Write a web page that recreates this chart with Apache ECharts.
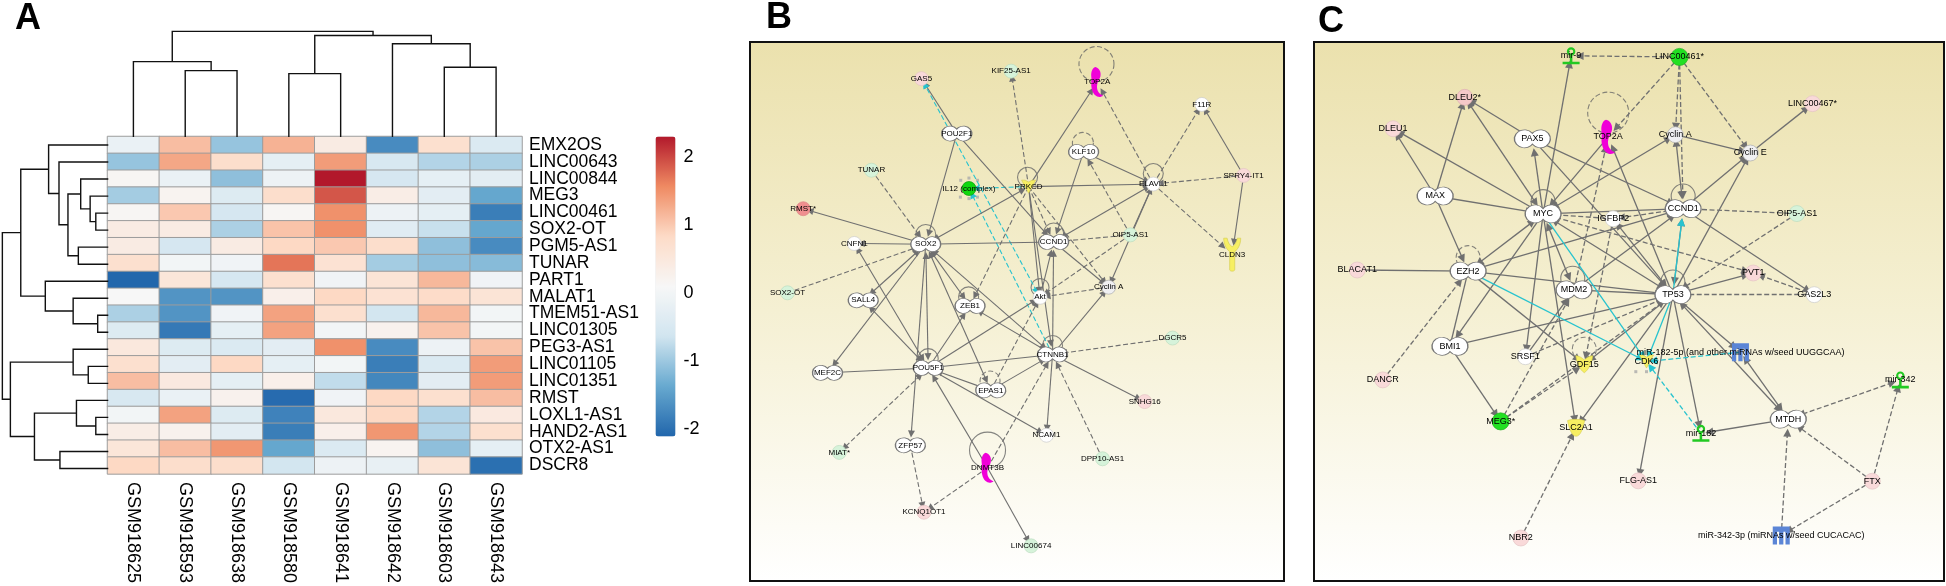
<!DOCTYPE html>
<html><head><meta charset="utf-8">
<script src="https://cdn.jsdelivr.net/npm/echarts@6/dist/echarts.min.js"></script>
<style>html,body{margin:0;padding:0;background:#fff}#c{width:1946px;height:586px;filter:blur(0.3px)}</style>
</head><body><div id="c"></div>
<script>
const samples=['GSM918625','GSM918593','GSM918638','GSM918580','GSM918641','GSM918642','GSM918603','GSM918643'];
const genes=['EMX2OS','LINC00643','LINC00844','MEG3','LINC00461','SOX2-OT','PGM5-AS1','TUNAR','PART1','MALAT1','TMEM51-AS1','LINC01305','PEG3-AS1','LINC01105','LINC01351','RMST','LOXL1-AS1','HAND2-AS1','OTX2-AS1','DSCR8'];
const expression=[
[-0.15,1.1,-1.05,1.2,0.4,-1.7,0.7,-0.45],
[-1.05,1.3,0.75,-0.25,1.4,-0.5,-0.85,-0.9],
[0.15,-0.15,-1.1,-0.1,2.3,-0.55,-0.25,-0.3],
[-0.95,0.2,-0.4,0.75,1.9,0.35,-0.3,-1.4],
[0.15,1.0,-0.55,0.15,1.5,-0.1,-0.25,-1.85],
[0.4,0.4,-0.9,1.05,1.5,-0.35,-0.7,-1.4],
[0.4,-0.55,0.4,0.85,1.0,0.75,-1.1,-1.7],
[0.7,0.0,-0.05,1.7,0.65,-0.95,-1.1,-1.15],
[-2.1,0.55,-0.55,0.7,-0.05,0.6,1.15,-0.05],
[0.1,-1.6,-1.6,0.3,0.85,0.65,0.8,0.6],
[-0.9,-1.6,-0.05,1.35,0.7,-0.6,1.15,0.0],
[-0.4,-1.9,-0.25,1.35,0.0,0.25,1.05,0.0],
[0.5,-0.4,-0.45,-0.3,1.5,-1.7,-0.1,1.05],
[0.7,-0.3,0.85,-0.25,0.0,-1.85,-0.45,1.4],
[1.1,0.45,-0.25,0.3,-0.75,-1.75,-0.3,1.4],
[-0.5,-0.15,0.25,-2.05,-0.05,0.85,0.7,1.1],
[0.0,1.35,-0.4,-1.8,0.5,0.85,-0.85,0.45],
[0.35,0.25,-0.3,-1.85,0.3,1.45,-0.85,0.7],
[0.55,1.1,1.45,-1.4,-0.45,0.2,-1.1,-0.25],
[0.85,0.75,0.75,-0.6,-0.1,-0.2,0.6,-2.0]];
const colorTicks=[-2,-1,0,1,2];
const colorRange=[-2.11,2.30];
// dendrogram merges: [child, child, height]; ids >= leaf count refer to earlier merges
const colMerges=[[1,2,176],[0,8,200],[3,4,168],[6,7,185],[5,11,248],[10,12,270],[9,13,281]];
const rowMerges=[[4,5,25],[3,20,37],[2,21,57],[6,7,62],[22,23,84],[1,24,103],[0,25,125],[10,11,21],[9,27,73],[8,28,132],[26,29,184],[13,14,41],[12,31,73],[16,17,25],[15,33,66],[18,19,101],[34,35,155],[32,36,206],[30,37,223]];

// network nodes: [name, x, y, kind]
const nodesB=[
['GAS5',508,211,'pink'],['KIF25-AS1',759,191,'green'],['TOP2A',1000,220,'enzyme'],['F11R',1293,280,'white'],
['POU2F1',607,358,'tf'],['KLF10',962,407,'tf'],['TUNAR',368,456,'green'],['SPRY4-IT1',1410,470,'pink'],
['IL12 (complex)',641,505,'hit'],['PRKCD',808,500,'kinase'],['ELAVL1',1157,493,'white'],['RMST*',177,559,'red'],
['OIP5-AS1',1093,629,'green'],['SOX2',520,654,'tf'],['CCND1',878,648,'tf'],['CNFN1',320,652,'white'],
['CLDN3',1378,682,'receptor'],['SOX2-OT',133,784,'green'],['SALL4',345,804,'tf'],['Cyclin A',1032,769,'grey'],
['Akt',840,796,'white'],['ZEB1',644,819,'tf'],['DGCR5',1211,905,'green'],['CTNNB1',875,949,'tf'],
['POU5F1',527,985,'tf'],['MEF2C',245,998,'tf'],['EPAS1',702,1045,'tf'],['SNHG16',1133,1075,'pink'],
['NCAM1',858,1165,'white'],['ZFP57',477,1192,'tf'],['MIAT*',278,1211,'green'],['DPP10-AS1',1015,1228,'green'],
['DNMT3B',693,1252,'enzyme'],['KCNQ1OT1',515,1371,'pink'],['LINC00674',815,1461,'green']];
// network edges: [from, to, kind]; s solid, d dashed, c cyan, b both ends arrowed
const edgesB=[
['POU2F1','GAS5','s'],['Akt','GAS5','cdb'],['CTNNB1','IL12 (complex)','cd'],['PRKCD','IL12 (complex)','cd'],
['POU2F1','SOX2','s'],['POU2F1','CCND1','s'],['TUNAR','SOX2','d'],['SOX2','RMST*','s'],['SOX2','CNFN1','s'],
['SOX2-OT','SOX2','d'],['SOX2','SALL4','sb'],['SOX2','MEF2C','s'],['SOX2','POU5F1','sb'],['SOX2','ZFP57','s'],
['SOX2','ZEB1','sb'],['SOX2','EPAS1','sb'],['SOX2','CTNNB1','sb'],['SOX2','PRKCD','sb'],['CCND1','SOX2','s'],
['CNFN1','POU5F1','sb'],['SALL4','POU5F1','sb'],['POU5F1','MEF2C','s'],['POU5F1','ZEB1','s'],['POU5F1','CTNNB1','sb'],
['POU5F1','Akt','s'],['EPAS1','POU5F1','s'],['POU5F1','NCAM1','s'],['POU5F1','MIAT*','db'],['DNMT3B','POU5F1','s'],
['ZFP57','KCNQ1OT1','d'],['DNMT3B','KCNQ1OT1','d'],['DNMT3B','LINC00674','s'],['DNMT3B','CTNNB1','d'],
['DPP10-AS1','CTNNB1','d'],['DGCR5','CTNNB1','d'],['CTNNB1','SNHG16','s'],['CTNNB1','NCAM1','s'],['CTNNB1','ZEB1','s'],
['EPAS1','CTNNB1','s'],['EPAS1','Akt','d'],['CTNNB1','Cyclin A','s'],['CTNNB1','CCND1','s'],['Akt','CCND1','s'],
['PRKCD','CTNNB1','s'],['PRKCD','Akt','s'],['PRKCD','ZEB1','d'],['PRKCD','CCND1','d'],['PRKCD','Cyclin A','d'],
['PRKCD','TOP2A','s'],['PRKCD','ELAVL1','s'],['PRKCD','KIF25-AS1','d'],['KLF10','ELAVL1','s'],['KLF10','CCND1','s'],
['OIP5-AS1','KLF10','d'],['OIP5-AS1','CCND1','d'],['OIP5-AS1','ELAVL1','s'],['OIP5-AS1','Akt','d'],['ELAVL1','CCND1','sb'],
['ELAVL1','Cyclin A','s'],['ELAVL1','TOP2A','d'],['ELAVL1','F11R','d'],['ELAVL1','CLDN3','d'],['SPRY4-IT1','ELAVL1','d'],
['SPRY4-IT1','F11R','s'],['SPRY4-IT1','CLDN3','s'],['CCND1','Cyclin A','s'],['Cyclin A','Akt','d']];
// self-loop rings: [x, y, diameter, dashed]
const loopsB=[[998,172,35,1],[960,383,21,1],[805,475,20,0],[1157,465,20,0],[520,628,20,0],[878,624,20,0],[840,770,18,0],[640,795,20,0],[875,925,20,0],[527,960,20,0],[700,1020,20,1],[693,1205,36,0]];
const groupDotsB=[[618,483],[641,477],[665,483],[617,528],[641,532],[665,528]];

const nodesC=[
['mir-9',658,150,'mirna'],['LINC00461*',921,153,'hitLabel'],['DLEU2*',400,261,'pink2'],['LINC00467*',1244,278,'pink'],
['DLEU1',226,345,'pink'],['PAX5',564,372,'tf'],['TOP2A',748,367,'enzyme'],['Cyclin A',911,361,'grey'],['Cyclin E',1093,410,'grey'],
['MAX',328,525,'tf'],['MYC',590,573,'tf'],['CCND1',930,559,'tf'],['IGFBP2',760,586,'white'],['OIP5-AS1',1206,572,'green'],
['EZH2',408,726,'tf'],['BLACAT1',139,723,'pink'],['PVT1',1100,731,'pink'],['MDM2',665,776,'tf'],['TP53',905,789,'tf'],
['GAS2L3',1248,789,'white'],['BMI1',364,927,'tf'],['SRSF1',547,955,'white'],['GDF15',690,975,'cytokine'],
['miR-182-5p (and other miRNAs w/seed UUGGCAA)',1069,943,'mirgroup'],['CDK6',841,968,'kinase'],['DANCR',201,1017,'pink'],
['mir-342',1457,1017,'mirna'],['MEG3*',487,1128,'hitLabel'],['MTDH',1185,1122,'tf'],['SLC2A1',670,1145,'transporter'],
['mir-182',973,1160,'mirna'],['FLG-AS1',821,1287,'pink'],['FTX',1389,1288,'pink'],['NBR2',536,1440,'pink'],
['miR-342-3p (miRNAs w/seed CUCACAC)',1168,1433,'mirgroup']];
const m1825='miR-182-5p (and other miRNAs w/seed UUGGCAA)', m3423='miR-342-3p (miRNAs w/seed CUCACAC)';
const edgesC=[
['LINC00461*','mir-9','d'],['LINC00461*','TOP2A','d'],['LINC00461*','Cyclin A','d'],['LINC00461*','CCND1','d'],['LINC00461*','Cyclin E','d'],
['MYC','mir-9','s'],['PAX5','DLEU2*','s'],['MAX','DLEU2*','s'],['MYC','DLEU2*','sb'],['MAX','DLEU1','s'],['MYC','DLEU1','s'],
['MAX','MYC','s'],['MAX','EZH2','s'],['MYC','PAX5','s'],['PAX5','CCND1','s'],['PAX5','TP53','s'],['TOP2A','MYC','s'],['MYC','Cyclin A','sb'],
['CCND1','Cyclin A','sb'],['Cyclin A','Cyclin E','s'],['Cyclin E','LINC00467*','s'],['CCND1','Cyclin E','s'],['TP53','Cyclin E','s'],['TP53','TOP2A','s'],
['CCND1','MYC','s'],['IGFBP2','MYC','d'],['CCND1','IGFBP2','d'],['MYC','TP53','sb'],['OIP5-AS1','CCND1','d'],['OIP5-AS1','TP53','d'],
['CCND1','GAS2L3','s'],['GAS2L3','PVT1','d'],['GAS2L3','TP53','d'],['TP53','PVT1','s'],['MYC','PVT1','db'],['IGFBP2','TP53','sb'],
['IGFBP2','GDF15','d'],['MDM2','TOP2A','d'],['CCND1','TP53','sb'],['MDM2','CCND1','s'],['MYC','MDM2','sb'],['EZH2','MYC','sb'],['EZH2','CCND1','sb'],
['TP53','EZH2','s'],['MDM2','TP53','s'],['EZH2','BLACAT1','sn'],['DANCR','EZH2','d'],['EZH2','BMI1','sn'],['EZH2','GDF15','s'],['BMI1','TP53','s'],
['BMI1','MEG3*','s'],['MYC','BMI1','s'],['MYC','SRSF1','s'],['MYC','SLC2A1','s'],['SRSF1','MDM2','s'],['SRSF1','TP53','d'],['MEG3*','MDM2','d'],
['MEG3*','GDF15','d'],['MEG3*','TP53','d'],['TP53','GDF15','s'],['TP53','SLC2A1','s'],['TP53','FLG-AS1','s'],['TP53','mir-182','s'],[ 'TP53',m1825,'s'],
['TP53','MTDH','sb'],[m1825,'MTDH','sb'],['MTDH','mir-182','s'],['mir-342','MTDH','db'],['FTX','mir-342','d'],['FTX','MTDH','d'],['FTX',m3423,'d'],
[m3423,'MTDH','d'],['NBR2','SLC2A1','d'],
['MYC','CDK6','cs'],['EZH2','CDK6','cs'],['TP53','CDK6','cs'],['TP53','CCND1','cs'],[m1825,'CDK6','cd'],['mir-182','CDK6','cd']];
const loopsC=[[748,302,41,1],[590,540,24,0],[930,525,24,0],[408,690,24,1],[662,745,24,0],[905,755,24,0],[690,935,24,1]];
const groupDotsC=[[815,995],[841,995]];

const font='"Liberation Sans", Arial, sans-serif';
const PEANUT='path://M18 4A10 10 0 1 0 18 16A10 10 0 1 0 18 4Z';
const ENZYME='path://M8 0C15 1 19 8 17 15C15 20 11 24 11 30C11 38 16 42 22 44C16 49 5 46 2 34C0 26 2 22 1 15C0 8 3 1 8 0Z';
const RECEPTOR='path://M0 0L4 0C5 6 7 10 10 12C13 10 15 6 16 0L20 0C20 10 16 16 13 19L13 44C13 47 7 47 7 44L7 19C4 16 0 10 0 0Z';
const MIRNA='path://M10 0A5 5 0 1 1 10 10A5 5 0 1 1 10 0ZM10 2.5A2.5 2.5 0 1 0 10 7.5A2.5 2.5 0 1 0 10 2.5ZM8.5 10H11.5V17H20V20H0V17H8.5Z';
const COMB='path://M0 0H20V20H15V6H12.5V20H7.5V6H5V20H0Z';
const BUTTERFLY='path://M0 0C4 0 8 3 10 5C12 3 16 0 20 0C19 8 15 17 10 20C5 17 1 8 0 0Z';
const KINASE='path://M0 0L5 0L10 3L15 0L20 0L14 12L10 20L6 12Z';
const CUP='path://M0 2C5 0 15 0 20 2C18 12 15 20 10 20C5 20 2 12 0 2Z';
function kindStyle(k,big){
  const s=big?1.14:1, n=(w,h)=>[w*s,h*s];
  const circle=(c,d,b)=>({symbol:'circle',symbolSize:n(d,d),itemStyle:{color:c,borderColor:b||'#c9c9c9',borderWidth:0.7}});
  switch(k){
    case 'tf':return {symbol:PEANUT,symbolSize:big?[36,18]:[30,15],itemStyle:{color:'#fff',borderColor:'#777',borderWidth:1}};
    case 'white':return circle('#fff',14,'#ccc');
    case 'grey':return circle('#f0f0f2',14,'#aaa');
    case 'pink':return circle('#f9d9d9',14,'#e4c4c4');
    case 'pink2':return circle('#f6c9c9',14,'#dcb0b0');
    case 'red':return circle('#ef8f8f',14,'#d88');
    case 'green':return circle('#d6f3da',14,'#bcdcc0');
    case 'hit':return circle('#0fd80f',14,'#0a9a0a');
    case 'hitLabel':return circle('#22e022',15,'#22b022');
    case 'enzyme':return {symbol:ENZYME,symbolSize:n(12,30),itemStyle:{color:'#f000d8'}};
    case 'receptor':return {symbol:RECEPTOR,symbolSize:[17,33],itemStyle:{color:'#f7ef62',borderColor:'#d3cb50',borderWidth:0.6}};
    case 'kinase':return {symbol:KINASE,symbolSize:[14,13],itemStyle:{color:'#f7ef62',borderColor:'#d3cb50',borderWidth:0.6}};
    case 'cytokine':return {symbol:BUTTERFLY,symbolSize:[17,17],itemStyle:{color:'#f7ef62',borderColor:'#d3cb50',borderWidth:0.6}};
    case 'transporter':return {symbol:CUP,symbolSize:[17,17],itemStyle:{color:'#f7ef62',borderColor:'#d3cb50',borderWidth:0.6}};
    case 'mirna':return {symbol:MIRNA,symbolSize:[17,17],itemStyle:{color:'#22c922'}};
    case 'mirgroup':return {symbol:COMB,symbolSize:[17,18],itemStyle:{color:'#5b85d6'}};
  }
}
function linkOf(e,width){
  const k=e[2],cy=k[0]==='c',dash=k.includes('d'),both=k.endsWith('b'),none=k.endsWith('n');
  return {source:e[0],target:e[1],symbol:[both?'triangle':'none',none?'none':'triangle'],
    lineStyle:{color:cy?'#27c3cf':'#707070',width:width,type:dash?[5,2.5]:'solid',curveness:0,opacity:1}};
}
function treeSegments(merges,n,leafPos){
  const pos=[],h=[];
  for(let i=0;i<n;i++){pos[i]=leafPos(i);h[i]=0;}
  const pts=[];
  merges.forEach((m,j)=>{
    const id=n+j,[a,b,t]=m;
    pts.push([pos[a],h[a]],[pos[a],t],[pos[b],t],[pos[b],h[b]],['-','-']);
    pos[id]=(pos[a]+pos[b])/2;h[id]=t;
  });
  return pts;
}
const heat=[];
expression.forEach((r,i)=>r.forEach((v,j)=>heat.push([j,i,v])));
const hidden=(o)=>Object.assign({type:'value',show:false,scale:false,splitLine:{show:false}},o);
const panelFill=()=>new echarts.graphic.LinearGradient(0,0,0,1,[{offset:0,color:'#ebe1ad'},{offset:.5,color:'#f5f0d3'},{offset:1,color:'#ffffff'}]);
const grids=[
 {left:107.5,top:136.5,width:414.5,height:340.5},
 {left:107.5,top:24.3,width:414.5,height:112.1},
 {left:0,top:136.5,width:107.6,height:340.5},
 {left:655.5,top:136.4,width:20,height:300},
 {left:750,top:42,width:534,height:539,show:true,borderColor:'#111',borderWidth:2,backgroundColor:panelFill()},
 {left:1314,top:42,width:630,height:539,show:true,borderColor:'#111',borderWidth:2,backgroundColor:panelFill()}
];
const xAxes=[
 {type:'category',gridIndex:0,data:samples,position:'bottom',axisLine:{show:false},axisTick:{show:false},
  axisLabel:{interval:0,rotate:-90,margin:8,fontFamily:font,fontSize:18,color:'#000'}},
 hidden({gridIndex:1,min:0,max:8}),
 hidden({gridIndex:2,min:0,max:228,inverse:true}),
 hidden({gridIndex:3,min:0,max:1}),
 hidden({gridIndex:4,min:28,max:1523}),
 hidden({gridIndex:5,min:34,max:1563})
];
const yAxes=[
 {type:'category',gridIndex:0,data:genes,inverse:true,position:'right',axisLine:{show:false},axisTick:{show:false},
  axisLabel:{interval:0,margin:7,fontFamily:font,fontSize:17.5,color:'#000'}},
 hidden({gridIndex:1,min:0,max:300}),
 hidden({gridIndex:2,min:0,max:20,inverse:true}),
 {type:'value',gridIndex:3,min:colorRange[0],max:colorRange[1],position:'right',splitLine:{show:false},axisLine:{show:false},axisTick:{show:false},
  axisLabel:{customValues:colorTicks,margin:8,fontFamily:font,fontSize:18,color:'#000'}},
 hidden({gridIndex:4,min:113,max:1555,inverse:true}),
 hidden({gridIndex:5,min:113,max:1555,inverse:true})
];
function graphSeries(nodes,edges,ax,fs,big,lw){
  return {type:'graph',coordinateSystem:'cartesian2d',xAxisIndex:ax,yAxisIndex:ax,layout:'none',z:3,silent:true,
    edgeSymbol:['none','triangle'],edgeSymbolSize:big?8:7,
    data:nodes.map(n=>Object.assign({name:n[0],value:[n[1],n[2]]},kindStyle(n[3],big))),
    links:edges.map(e=>linkOf(e,lw)),
    label:{show:true,position:'inside',formatter:'{b}',fontFamily:font,fontSize:fs,color:'#000'},
    emphasis:{disabled:true}};
}
function loopSeries(loops,ax){
  return {type:'scatter',xAxisIndex:ax,yAxisIndex:ax,z:2,silent:true,symbol:'circle',
    data:loops.map(l=>({value:[l[0],l[1]],symbolSize:l[2],
      itemStyle:{color:'rgba(0,0,0,0)',borderColor:'#666',borderWidth:1.1,borderType:l[3]?[5,2.5]:'solid'}}))};
}
function dotSeries(d,ax){
  return {type:'scatter',xAxisIndex:ax,yAxisIndex:ax,z:2,silent:true,symbol:'rect',symbolSize:3,itemStyle:{color:'#aaa'},data:d};
}
const treeLine=(pts,ax)=>({type:'line',xAxisIndex:ax,yAxisIndex:ax,data:pts,symbol:'none',silent:true,connectNulls:false,
  clip:false,lineStyle:{color:'#111',width:1.4,join:'miter',cap:'square'}});
const titleStyle={fontFamily:font,fontWeight:'bold',fontSize:36,color:'#000'};
const option={
 animation:false,backgroundColor:'#fff',
 title:[
  {text:'A',left:15,top:1,textStyle:titleStyle,padding:0},
  {text:'B',left:766,top:0,textStyle:titleStyle,padding:0},
  {text:'C',left:1318,top:4,textStyle:titleStyle,padding:0}],
 grid:grids,xAxis:xAxes,yAxis:yAxes,
 visualMap:{type:'continuous',seriesIndex:0,min:colorRange[0],max:colorRange[1],left:655.5,top:136.4,itemWidth:20,itemHeight:300,padding:0,
  calculable:false,hoverLink:false,text:null,orient:'vertical',
  inRange:{color:['#2166AC','#67A9CF','#D1E5F0','#F7F7F7','#FDDBC7','#EF8A62','#B2182B']}},
 series:[
  {type:'heatmap',xAxisIndex:0,yAxisIndex:0,data:heat,silent:true,itemStyle:{borderColor:'#9c9c9c',borderWidth:1},emphasis:{disabled:true}},
  treeLine(treeSegments(colMerges,8,i=>i+0.5),1),
  treeLine(treeSegments(rowMerges,20,i=>i+0.5).map(p=>[p[1],p[0]]),2),
  {type:'scatter',xAxisIndex:3,yAxisIndex:3,data:[]},
  loopSeries(loopsB,4),dotSeries(groupDotsB,4),graphSeries(nodesB,edgesB,4,8,false,1.1),
  loopSeries(loopsC,5),dotSeries(groupDotsC,5),graphSeries(nodesC,edgesC,5,9,true,1.3)
 ]};
const chart=echarts.init(document.getElementById('c'),null,{renderer:'canvas',width:1946,height:586});
chart.setOption(option);
</script></body></html>
